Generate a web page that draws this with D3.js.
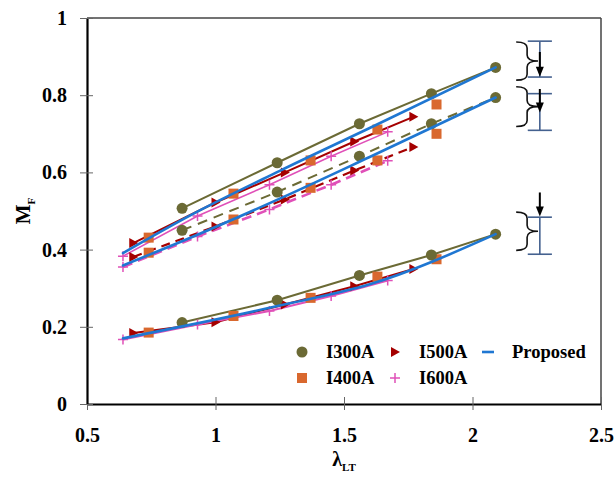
<!DOCTYPE html>
<html>
<head>
<meta charset="utf-8">
<script src="https://cdn.jsdelivr.net/npm/d3@7"></script>
<style>
html,body{margin:0;padding:0;background:#fff;}
svg text{font-family:"Liberation Serif","Times New Roman",serif;font-weight:bold;fill:#000;}
</style>
</head>
<body>
<svg id="chart" width="616" height="481"></svg>
<script>
// ---- data ----
const xTicks = [0.5, 1, 1.5, 2, 2.5];
const yTicks = [0, 0.2, 0.4, 0.6, 0.8, 1];
const xTickLabels = ["0.5", "1", "1.5", "2", "2.5"];
const yTickLabels = ["0", "0.2", "0.4", "0.6", "0.8", "1"];

const xI300 = [0.87, 1.24, 1.56, 1.84, 2.09];
const I300A_upper = [0.507, 0.625, 0.726, 0.804, 0.872];
const I300A_middle = [0.450, 0.549, 0.642, 0.726, 0.794];
const I300A_lower = [0.211, 0.269, 0.333, 0.386, 0.440];

const xI400 = [0.74, 1.07, 1.37, 1.63, 1.86];
const I400A_upper = [0.431, 0.545, 0.631, 0.711, 0.776];
const I400A_middle = [0.392, 0.478, 0.560, 0.631, 0.700];
const I400A_lower = [0.185, 0.228, 0.275, 0.330, 0.375];

const xI500 = [0.68, 1.00, 1.27, 1.54, 1.77];
const I500A_upper = [0.417, 0.522, 0.600, 0.680, 0.744];
const I500A_middle = [0.381, 0.460, 0.530, 0.605, 0.666];
const I500A_lower = [0.184, 0.212, 0.258, 0.305, 0.350];

const xI600 = [0.64, 0.93, 1.21, 1.45, 1.67];
const I600A_upper = [0.383, 0.487, 0.568, 0.642, 0.705];
const I600A_middle = [0.355, 0.434, 0.504, 0.568, 0.630];
const I600A_lower = [0.167, 0.206, 0.241, 0.280, 0.320];

const xProp = [0.64, 0.90, 1.25, 1.60, 2.09];
const Prop_upper = [0.391, 0.488, 0.604, 0.715, 0.872];
const Prop_middle = [0.359, 0.430, 0.532, 0.640, 0.794];
const Prop_lower = [0.170, 0.205, 0.255, 0.310, 0.440];

// annotation ranges (data units): [yTop, yBottom]
const barRanges = [[0.940, 0.847], [0.804, 0.709], [0.484, 0.388]];
const braceRanges = [[0.938, 0.839], [0.822, 0.719], [0.497, 0.398]];
const arrowRanges = [[0.912, 0.848], [0.816, 0.755], [0.548, 0.486]];
const annX = {braceL: 2.17, braceR: 2.255, bar: 2.262, capHalf: 0.047};

const legendItems = [
  {name: "I300A", kind: "circle", row: 0, col: 0},
  {name: "I500A", kind: "tri", row: 0, col: 1},
  {name: "Proposed", kind: "dash", row: 0, col: 2},
  {name: "I400A", kind: "square", row: 1, col: 0},
  {name: "I600A", kind: "plus", row: 1, col: 1}
];

const C = {olive: "#6b6a35", orange: "#d9682e", red: "#a50000", magenta: "#e050b8", blue: "#1f77d2", bar: "#44618f"};

// ---- scales ----
const svg = d3.select("#chart");
const x = d3.scaleLinear().domain([0.5, 2.5]).range([87, 601]);
const y = d3.scaleLinear().domain([0, 1]).range([404, 18]);

// frame
svg.append("line").attr("x1", x(0.5)).attr("x2", x(2.5)).attr("y1", y(1)).attr("y2", y(1)).attr("stroke", "#444").attr("stroke-width", 1.5);
svg.append("line").attr("x1", x(2.5)).attr("x2", x(2.5)).attr("y1", y(1)).attr("y2", y(0)).attr("stroke", "#444").attr("stroke-width", 1.5);

// axes
const xAxis = d3.axisBottom(x).tickValues(xTicks).tickFormat((d, i) => xTickLabels[i]).tickSize(0).tickPadding(24);
const gx = svg.append("g").attr("transform", `translate(0,${y(0)})`).call(xAxis);
gx.select(".domain").attr("stroke", "#000").attr("stroke-width", 2.2);
gx.selectAll(".tick").append("line").attr("y1", -7).attr("y2", 6).attr("stroke", "#666").attr("stroke-width", 1);
gx.selectAll("text").attr("font-size", 20).attr("font-family", "Liberation Serif").attr("font-weight", "bold").attr("fill", "#000");

const yAxis = d3.axisLeft(y).tickValues(yTicks).tickFormat((d, i) => yTickLabels[i]).tickSize(0).tickPadding(20);
const gy = svg.append("g").attr("transform", `translate(${x(0.5)},0)`).call(yAxis);
gy.select(".domain").attr("stroke", "#000").attr("stroke-width", 2.2);
gy.selectAll(".tick").append("line").attr("x1", -7).attr("x2", 6).attr("stroke", "#666").attr("stroke-width", 1);
gy.selectAll("text").attr("font-size", 20).attr("font-family", "Liberation Serif").attr("font-weight", "bold").attr("fill", "#000");

// axis titles
const xt = svg.append("text").attr("x", (x(0.5) + x(2.5)) / 2).attr("y", 466).attr("text-anchor", "middle").attr("font-size", 20);
xt.append("tspan").text("λ");
xt.append("tspan").attr("font-size", 11).attr("dy", 5).text("LT");
const yt = svg.append("text").attr("transform", `translate(30,${(y(0) + y(1)) / 2}) rotate(-90)`).attr("text-anchor", "middle").attr("font-size", 21);
yt.append("tspan").text("M");
yt.append("tspan").attr("font-size", 11).attr("dy", 5).text("F");

// ---- series lines ----
const line = d3.line().x(d => x(d[0])).y(d => y(d[1]));
const zip = (xs, ys) => xs.map((v, i) => [v, ys[i]]);
const seriesLines = [
  {xs: xI300, ys: I300A_upper, c: C.olive, w: 2, dash: null},
  {xs: xI300, ys: I300A_middle, c: C.olive, w: 2, dash: "10,7"},
  {xs: xI300, ys: I300A_lower, c: C.olive, w: 2, dash: null},
  {xs: xI500, ys: I500A_upper, c: C.red, w: 2, dash: null},
  {xs: xI500, ys: I500A_middle, c: C.red, w: 2.2, dash: "9,6"},
  {xs: xI500, ys: I500A_lower, c: C.red, w: 2, dash: null},
  {xs: xI600, ys: I600A_upper, c: C.magenta, w: 1.6, dash: null},
  {xs: xI600, ys: I600A_middle, c: C.magenta, w: 2.6, dash: "10,6"},
  {xs: xI600, ys: I600A_lower, c: C.magenta, w: 2, dash: null}
];
svg.append("g").selectAll("path").data(seriesLines).join("path")
  .attr("d", d => line(zip(d.xs, d.ys))).attr("fill", "none")
  .attr("stroke", d => d.c).attr("stroke-width", d => d.w)
  .attr("stroke-dasharray", d => d.dash);

// ---- markers ----
const mk = svg.append("g");
function circles(xs, ys) {
  mk.append("g").selectAll("circle").data(zip(xs, ys)).join("circle")
    .attr("cx", d => x(d[0])).attr("cy", d => y(d[1])).attr("r", 5.5).attr("fill", C.olive);
}
function squares(xs, ys) {
  mk.append("g").selectAll("rect").data(zip(xs, ys)).join("rect")
    .attr("x", d => x(d[0]) - 5).attr("y", d => y(d[1]) - 5).attr("width", 10).attr("height", 10).attr("fill", C.orange);
}
const triPath = "M-4,-5L5,0L-4,5Z";
function tris(xs, ys) {
  mk.append("g").selectAll("path").data(zip(xs, ys)).join("path")
    .attr("transform", d => `translate(${x(d[0])},${y(d[1])})`).attr("d", triPath).attr("fill", C.red);
}
const plusPath = "M-5,0H5M0,-5V5";
function pluses(xs, ys) {
  mk.append("g").selectAll("path").data(zip(xs, ys)).join("path")
    .attr("transform", d => `translate(${x(d[0])},${y(d[1])})`).attr("d", plusPath).attr("stroke", C.magenta).attr("stroke-width", 1.5).attr("fill", "none");
}
[I400A_upper, I400A_middle, I400A_lower].forEach(ys => squares(xI400, ys));
[I500A_upper, I500A_middle, I500A_lower].forEach(ys => tris(xI500, ys));
[I600A_upper, I600A_middle, I600A_lower].forEach(ys => pluses(xI600, ys));
[I300A_upper, I300A_middle, I300A_lower].forEach(ys => circles(xI300, ys));

// ---- proposed ----
const smooth = d3.line().x(d => x(d[0])).y(d => y(d[1])).curve(d3.curveMonotoneX);
svg.append("g").selectAll("path").data([Prop_upper, Prop_middle, Prop_lower]).join("path")
  .attr("d", ys => smooth(zip(xProp, ys))).attr("fill", "none")
  .attr("stroke", C.blue).attr("stroke-width", 2.6).attr("stroke-linecap", "round");

// ---- annotations ----
const ann = svg.append("g");
function bracePath(x0, x1, yt, yb) {
  const ym = (yt + yb) / 2, xm = (x0 + x1) / 2, r = 6;
  return `M${x0},${yt} Q${xm},${yt} ${xm},${yt + r} L${xm},${ym - r} Q${xm},${ym} ${x1},${ym} Q${xm},${ym} ${xm},${ym + r} L${xm},${yb - r} Q${xm},${yb} ${x0},${yb}`;
}
ann.selectAll("path.brace").data(braceRanges).join("path").attr("class", "brace")
  .attr("d", r => bracePath(x(annX.braceL), x(annX.braceR), y(r[0]), y(r[1])))
  .attr("fill", "none").attr("stroke", "#111").attr("stroke-width", 1.6);
barRanges.forEach(r => {
  const g = ann.append("g").attr("stroke", C.bar).attr("stroke-width", 1.6);
  g.append("line").attr("x1", x(annX.bar)).attr("x2", x(annX.bar)).attr("y1", y(r[0])).attr("y2", y(r[1]));
  g.append("line").attr("x1", x(annX.bar - annX.capHalf)).attr("x2", x(annX.bar + annX.capHalf)).attr("y1", y(r[0])).attr("y2", y(r[0]));
  g.append("line").attr("x1", x(annX.bar - annX.capHalf)).attr("x2", x(annX.bar + annX.capHalf)).attr("y1", y(r[1])).attr("y2", y(r[1]));
});
arrowRanges.forEach(r => {
  const ax = x(annX.bar), y0 = y(r[0]), y1 = y(r[1]);
  ann.append("line").attr("x1", ax).attr("x2", ax).attr("y1", y0).attr("y2", y1 - 8).attr("stroke", "#000").attr("stroke-width", 2);
  ann.append("path").attr("d", `M${ax - 4},${y1 - 10}L${ax + 4},${y1 - 10}L${ax},${y1}Z`).attr("fill", "#000");
});

// ---- legend ----
const lg = svg.append("g");
const colX = [302, 395, 488], rowY = [352, 378];
legendItems.forEach(it => {
  const cx = colX[it.col], cy = rowY[it.row];
  if (it.kind === "circle") lg.append("circle").attr("cx", cx).attr("cy", cy).attr("r", 5.5).attr("fill", C.olive);
  if (it.kind === "square") lg.append("rect").attr("x", cx - 5).attr("y", cy - 5).attr("width", 10).attr("height", 10).attr("fill", C.orange);
  if (it.kind === "tri") lg.append("path").attr("transform", `translate(${cx},${cy})`).attr("d", triPath).attr("fill", C.red);
  if (it.kind === "plus") lg.append("path").attr("transform", `translate(${cx},${cy})`).attr("d", plusPath).attr("stroke", C.magenta).attr("stroke-width", 1.5);
  if (it.kind === "dash") lg.append("line").attr("x1", cx - 6).attr("x2", cx + 6).attr("y1", cy).attr("y2", cy).attr("stroke", C.blue).attr("stroke-width", 2.6);
  lg.append("text").attr("x", cx + 24).attr("y", cy + 6).attr("font-size", 18.5).text(it.name);
});
</script>
</body>
</html>
